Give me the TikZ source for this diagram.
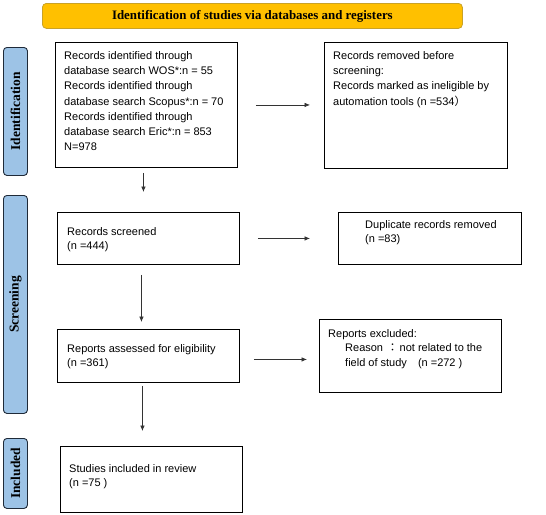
\documentclass[tikz,border=0pt]{standalone}
\usepackage{fontspec}
\setmainfont{Liberation Sans}
\newfontfamily\serifbf{Liberation Serif}
\newfontfamily\cjk{Noto Sans CJK SC}
\newfontfamily\cjktc{Noto Sans CJK TC}
\usetikzlibrary{arrows.meta}
\definecolor{bannerfill}{HTML}{FFC000}
\definecolor{bannerline}{HTML}{C9A227}
\definecolor{sidefill}{HTML}{9DC3E6}
\definecolor{sideline}{HTML}{1F2A38}
\definecolor{arrline}{HTML}{333333}
\tikzset{
  box/.style={draw=black, line width=0.9pt, fill=white, anchor=north west, inner sep=0pt},
  txt/.style={anchor=north west, inner sep=0pt, align=left, font=\fontsize{11}{14.5}\selectfont},
  txtwide/.style={txt, font=\fontsize{11}{15.3}\selectfont},
  side/.style={draw=sideline, fill=sidefill, line width=0.9pt, rounded corners=3.5pt, anchor=north west, inner sep=0pt, minimum width=24pt},
  sidetxt/.style={rotate=90, font=\serifbf\bfseries\fontsize{13.5}{13.5}\selectfont, inner sep=0pt},
  arr/.style={draw=arrline, line width=0.6pt, -{Latex[length=5.5pt,width=4.5pt]}},
}
\begin{document}
\begin{tikzpicture}[x=1pt,y=-1pt]
\useasboundingbox (0,0) rectangle (546,514);
% banner
\node[draw=bannerline, fill=bannerfill, line width=0.8pt, rounded corners=4pt, anchor=north west, inner sep=0pt,
      minimum width=420pt, minimum height=25pt] (banner) at (42,3) {};
\node[font=\serifbf\bfseries\fontsize{12.9}{12.9}\selectfont, inner sep=0pt] (bannertxt) at (banner.center) {Identification of studies via databases and registers};
% side bars
\node[side, minimum height=128pt] (sid) at (3,47) {};
\node[sidetxt] (sidt) at (sid.center) {Identification};
\node[side, minimum height=218pt] (sscr) at (3,195) {};
\node[sidetxt] (sscrt) at (sscr.center) {Screening};
\node[side, minimum height=70pt] (sinc) at (3,438) {};
\node[sidetxt] (sinct) at (sinc.center) {Included};
% boxes
\node[box, minimum width=182pt, minimum height=125pt] (b1) at (55,42) {};
\node[txtwide] (t1) at (64,51) {Records identified through\\database search WOS*:n = 55\\Records identified through\\database search Scopus*:n = 70\\Records identified through\\database search Eric*:n = 853\\N=978};
\node[box, minimum width=183pt, minimum height=126pt] (b2) at (324,42) {};
\node[txtwide] (t2) at (333,51) {Records removed before\\screening:\\Records marked as ineligible by\\automation tools (n =534{\cjk ）}};
\node[box, minimum width=182pt, minimum height=52pt] (b3) at (57,212) {};
\node[txt] (t3) at (67,227) {Records screened\\(n =444)};
\node[box, minimum width=183pt, minimum height=52pt] (b4) at (338,212) {};
\node[txt] (t4) at (365,220) {Duplicate records removed\\(n =83)};
\node[box, minimum width=182pt, minimum height=53pt] (b5) at (57,329) {};
\node[txt] (t5) at (67,344) {Reports assessed for eligibility\\(n =361)};
\node[box, minimum width=182pt, minimum height=73pt] (b6) at (319,319) {};
\node[txt] (t6) at (328,329) {Reports excluded:\\\hspace*{17pt}Reason\hspace{1pt} {\cjktc ：}\hspace{1.5pt}not related to the\\\hspace*{17pt}field of study\hspace{8pt} (n =272 )};
\node[box, minimum width=182pt, minimum height=66pt] (b7) at (60,446) {};
\node[txt] (t7) at (69,464) {Studies included in review\\(n =75 )};
% arrows
\draw[arr, shorten <=18pt, shorten >=14pt] (b1.east) -- (b1.east -| b2.west);
\draw[arr, shorten <=18pt, shorten >=28pt] (b3.east) -- (b3.east -| b4.west);
\draw[arr, shorten <=14pt, shorten >=12pt] ([yshift=-3.5pt]b5.east) -- ([yshift=-3.5pt]b5.east -| b6.west);
\draw[arr, shorten <=5pt, shorten >=20pt] ([xshift=-3pt]b1.south) -- ([xshift=-3pt]b1.south |- b3.north);
\draw[arr, shorten <=10pt, shorten >=7pt] ([xshift=-7pt]b3.south) -- ([xshift=-7pt]b3.south |- b5.north);
\draw[arr, shorten <=3pt, shorten >=15pt] ([xshift=-6pt]b5.south) -- ([xshift=-6pt]b5.south |- b7.north);
\end{tikzpicture}
\end{document}
